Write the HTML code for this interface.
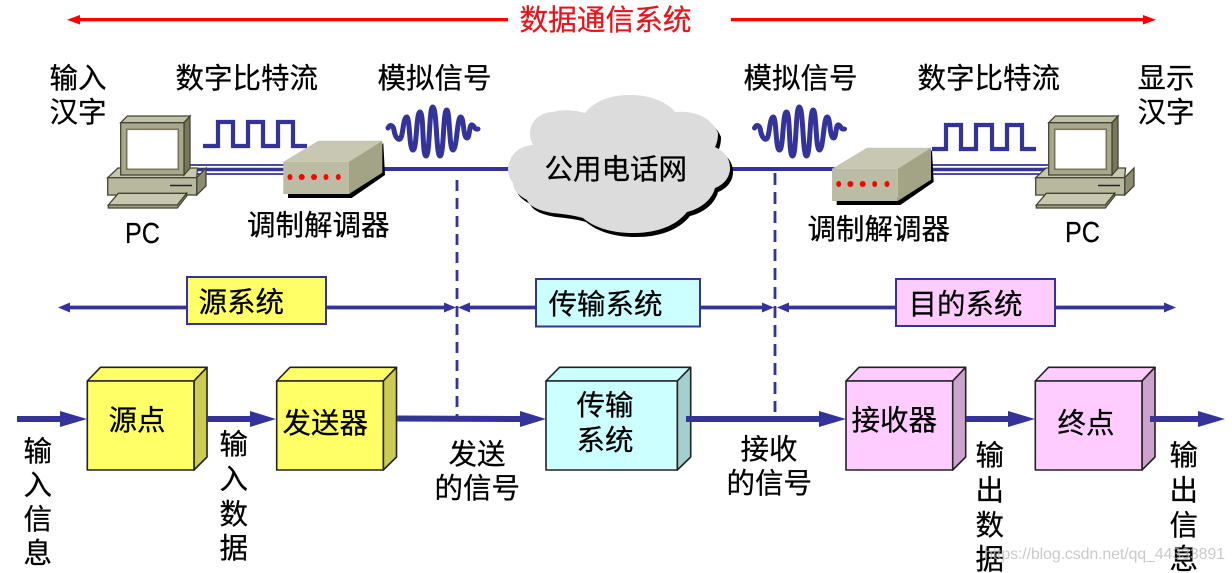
<!DOCTYPE html>
<html lang="zh">
<head>
<meta charset="utf-8">
<title>数据通信系统</title>
<style>
html,body{margin:0;padding:0;background:#fff;width:1232px;height:573px;overflow:hidden}
svg{display:block}
text{font-family:"Liberation Sans","Noto Sans CJK SC",sans-serif;font-size:28.5px;fill:#000;stroke:#000;stroke-width:.25px}
</style>
</head>
<body>
<svg width="1232" height="573" viewBox="0 0 1232 573" xmlns="http://www.w3.org/2000/svg">
<defs>
<g id="pc" stroke="#444433" stroke-width="1.3">
  <polygon points="107.7,177.7 118,168 197.5,168 196.7,177.7" fill="#c8c8b0"/>
  <polygon points="196.7,177.7 206,168 206,186 196.7,195" fill="#8c8c70"/>
  <rect x="107.7" y="177.7" width="89" height="17.3" fill="#b8b89e"/>
  <line x1="170" y1="185.5" x2="192" y2="185.5" stroke="#222" stroke-width="1.6"/>
  <polygon points="108.3,205 118.3,193.3 186.7,193.3 177.3,205" fill="#c8c8b0"/>
  <polygon points="108.3,205 177.3,205 186.7,193.3 186.7,196 177.3,208 108.3,208" fill="#a3a386"/>
  <polygon points="120.7,122.7 127.3,116 190,116 184,122.7" fill="#c0c0a8"/>
  <polygon points="184,122.7 190,116 190,168 184,175" fill="#77775c"/>
  <rect x="120.7" y="122.7" width="63.3" height="52.3" fill="#a8a88e"/>
  <rect x="126.7" y="129.3" width="51.6" height="40" fill="#fff" stroke="#77775c" stroke-width="1.6"/>
</g>
<g id="modem">
  <polygon points="288,194 288,198 351.7,198 385,175 383.3,143 349,190" fill="#000"/>
  <polygon points="283.3,161.7 318.3,140.7 382.3,140.7 349,161.7" fill="#c8c8b2"/>
  <polygon points="349,161.7 382.3,140.7 382.3,172.7 349,194" fill="#a3a386"/>
  <rect x="283.3" y="161.7" width="65.7" height="32.3" fill="#bcbca4"/>
  <g fill="#f00">
    <ellipse cx="290" cy="177" rx="2.5" ry="3"/>
    <ellipse cx="301.700" cy="177" rx="3" ry="3"/>
    <ellipse cx="314" cy="177" rx="3" ry="3"/>
    <ellipse cx="326" cy="177" rx="2.500" ry="3"/>
    <ellipse cx="338.300" cy="177" rx="2.500" ry="3"/>
  </g>
</g>
<path id="wave" fill="none" stroke="#333399" stroke-width="5" stroke-linecap="round" d="M388 128 C390 124 393 125 394 130 C395 137 398 140 400 139 C403 138 403 117 406.7 117 C410 117 409 150 413 150 C417 150 416 112 420 112 C424 112 422 156 426 156 C430 156 429 107 432.7 107 C437 107 436 156 440 156 C444 156 443 110 446.7 110 C450 110 449 150 453 150 C457 150 457 117 460.7 117 C464 117 463 138 467 138 C470 138 469 124 472 125 C475 126 474 130 478 129"/>
</defs>

<!-- top red arrow -->
<g fill="#f00">
  <rect x="76" y="18" width="432" height="3.300"/>
  <polygon points="67,19.700 80,15 80,24.500"/>
  <rect x="731" y="18" width="416" height="3.300"/>
  <polygon points="1156,19.700 1143,15 1143,24.500"/>
</g>
<text x="519.500" y="30" style="fill:#e8141c;stroke:#e8141c;font-size:28.7px">数据通信系统</text>

<!-- top labels -->
<text x="49.500" y="88">输入</text>
<text x="49.500" y="122">汉字</text>
<text x="175.500" y="88">数字比特流</text>
<text x="377.500" y="88">模拟信号</text>
<text x="743.500" y="88">模拟信号</text>
<text x="917.500" y="88">数字比特流</text>
<text x="1137.500" y="88">显示</text>
<text x="1137.500" y="122">汉字</text>
<text x="247" y="235">调制解调器</text>
<text x="807.500" y="239">调制解调器</text>
<text x="125" y="243" textLength="35" lengthAdjust="spacingAndGlyphs" style="font-size:29px">PC</text>
<text x="1065" y="242" textLength="35" lengthAdjust="spacingAndGlyphs" style="font-size:29px">PC</text>

<!-- pulses and waves -->
<g fill="none" stroke="#333399" stroke-width="4.200">
  <path d="M203 146H218V122H233V146H248V122H263V146H278V122H293V146H307"/>
  <path d="M932 149H946V125H961V149H976V125H992V149H1007V125H1022V149H1036"/>
</g>
<use href="#wave"/>
<use href="#wave" x="366.500"/>

<!-- signal lines -->
<g stroke="#333399" fill="none">
  <path d="M190 165H285M190 174H285" stroke-width="1.800"/>
  <path d="M190 169.500H285" stroke-width="3.400"/>
  <path d="M932 165H1050M932 174H1050" stroke-width="1.800"/>
  <path d="M932 169.500H1050" stroke-width="3.400"/>
  <path d="M383 169H512M730 169H836" stroke-width="4"/>
  <path d="M457 180V416" stroke-width="2.800" stroke-dasharray="11 7"/>
  <path d="M775 173V412" stroke-width="2.800" stroke-dasharray="12 7"/>
</g>

<!-- devices -->
<use href="#pc"/>
<use href="#pc" x="928"/>
<use href="#modem"/>
<use href="#modem" x="548.700" y="7"/>

<!-- cloud -->
<g>
  <path fill="#000" transform="translate(3,4)" d="M508 168 C510 153 520 146 533 145 C524 128 536 112 553 112 C562 109 575 110 585 113 C595 100 612 95 630 95 C650 95 667 102 675 112 C695 110 712 118 718 133 C718 139 717 143 715 147 C726 152 730 160 730 168 C730 178 723 185 715 188 C712 200 700 209 687 212 C675 227 655 233 633 233 C612 233 595 228 583 218 C573 215 562 214 553 213 C540 211 530 207 527 200 C518 195 513 190 513 183 C509 178 508 173 508 168Z"/>
  <path fill="#dcdcdc" d="M508 168 C510 153 520 146 533 145 C524 128 536 112 553 112 C562 109 575 110 585 113 C595 100 612 95 630 95 C650 95 667 102 675 112 C695 110 712 118 718 133 C718 139 717 143 715 147 C726 152 730 160 730 168 C730 178 723 185 715 188 C712 200 700 209 687 212 C675 227 655 233 633 233 C612 233 595 228 583 218 C573 215 562 214 553 213 C540 211 530 207 527 200 C518 195 513 190 513 183 C509 178 508 173 508 168Z"/>
</g>
<text x="544.500" y="179">公用电话网</text>

<!-- system band -->
<g stroke="#333399" stroke-width="3.800" fill="none">
  <path d="M66 307.500H448M465 307.500H767M785 307.500H1167"/>
</g>
<g fill="#333399">
  <polygon points="58,307.500 70,302.500 70,312.500"/>
  <polygon points="456,307.500 444,302.500 444,312.500"/>
  <polygon points="458,307.500 470,302.500 470,312.500"/>
  <polygon points="774,307.500 762,302.500 762,312.500"/>
  <polygon points="777,307.500 789,302.500 789,312.500"/>
  <polygon points="1176,307.500 1164,302.500 1164,312.500"/>
</g>
<rect x="187" y="277" width="139" height="47" fill="#ffff66" stroke="#333399" stroke-width="2"/>
<rect x="536" y="279" width="164" height="47.500" fill="#ccffff" stroke="#333399" stroke-width="2"/>
<rect x="896" y="279" width="159" height="47" fill="#ffccff" stroke="#333399" stroke-width="2"/>
<text x="198.500" y="312">源系统</text>
<text x="548.500" y="314">传输系统</text>
<text x="908.500" y="314">目的系统</text>

<!-- blocks -->
<g stroke="#222" stroke-width="1.600" stroke-linejoin="round">
  <polygon points="87.300,381 100.500,367.300 207,367.300 194,381" fill="#ffff66"/>
  <polygon points="194,381 207,367.300 207,457 194,470" fill="#cccc55"/>
  <rect x="87.300" y="381" width="106.700" height="89" fill="#ffff66"/>

  <polygon points="276.700,381 290,367.300 396.500,367.300 383.300,381" fill="#ffff66"/>
  <polygon points="383.300,381 396.500,367.300 396.500,457 383.300,470" fill="#cccc55"/>
  <rect x="276.700" y="381" width="106.600" height="89" fill="#ffff66"/>

  <polygon points="546,381 559.500,367.300 690.700,367.300 677.300,381" fill="#ccffff"/>
  <polygon points="677.300,381 690.700,367.300 690.700,457 677.300,470" fill="#a5cfcf"/>
  <rect x="546" y="381" width="131.300" height="89" fill="#ccffff"/>

  <polygon points="846,381 859,367.300 965.700,367.300 952.700,381" fill="#ffccff"/>
  <polygon points="952.700,381 965.700,367.300 965.700,457 952.700,470" fill="#cca3cc"/>
  <rect x="846" y="381" width="106.700" height="89" fill="#ffccff"/>

  <polygon points="1035.300,381 1048.500,367.300 1155,367.300 1142,381" fill="#ffccff"/>
  <polygon points="1142,381 1155,367.300 1155,457 1142,470" fill="#cca3cc"/>
  <rect x="1035.300" y="381" width="106.700" height="89" fill="#ffccff"/>
</g>
<text x="108.500" y="430">源点</text>
<text x="282.500" y="433">发送器</text>
<text x="576.500" y="415">传输</text>
<text x="576.500" y="450">系统</text>
<text x="851.500" y="430">接收器</text>
<text x="1057.500" y="433">终点</text>

<!-- main arrows -->
<g fill="#333399">
  <rect x="17" y="416" width="45" height="6"/>
  <polygon points="60,411 87,419 60,427"/>
  <rect x="207" y="416" width="45" height="6"/>
  <polygon points="250,411 276,419 250,427"/>
  <polygon points="397,415.500 522,416 522,422 397,421.500"/>
  <polygon points="520,411 546,419 520,427"/>
  <rect x="686" y="416" width="136" height="6"/>
  <polygon points="819,411 846,419 819,427"/>
  <rect x="966" y="416" width="44" height="6"/>
  <polygon points="1008,411 1035,419 1008,427"/>
  <rect x="1150" y="416" width="50" height="6"/>
  <polygon points="1198,411 1225,419 1198,427"/>
</g>

<!-- lower labels -->
<g>
  <text x="23.500" y="461">输</text><text x="23.500" y="495">入</text><text x="23.500" y="529">信</text><text x="23.500" y="563">息</text>
  <text x="219.500" y="454">输</text><text x="219.500" y="489">入</text><text x="219.500" y="524">数</text><text x="219.500" y="558">据</text>
  <text x="975.500" y="465">输</text><text x="975.500" y="500">出</text><text x="975.500" y="535">数</text><text x="975.500" y="569">据</text>
  <text x="1169.500" y="465">输</text><text x="1169.500" y="500">出</text><text x="1169.500" y="535">信</text><text x="1169.500" y="569">息</text>
  <text x="448.500" y="464">发送</text><text x="434.500" y="498">的信号</text>
  <text x="740.500" y="459">接收</text><text x="726.500" y="493">的信号</text>
</g>

<!-- watermark -->
<text x="984" y="559" textLength="241" style="font-size:16px;fill:#b8b8b8;fill-opacity:.75;stroke:none">https://blog.csdn.net/qq_44333891</text>
</svg>
</body>
</html>
